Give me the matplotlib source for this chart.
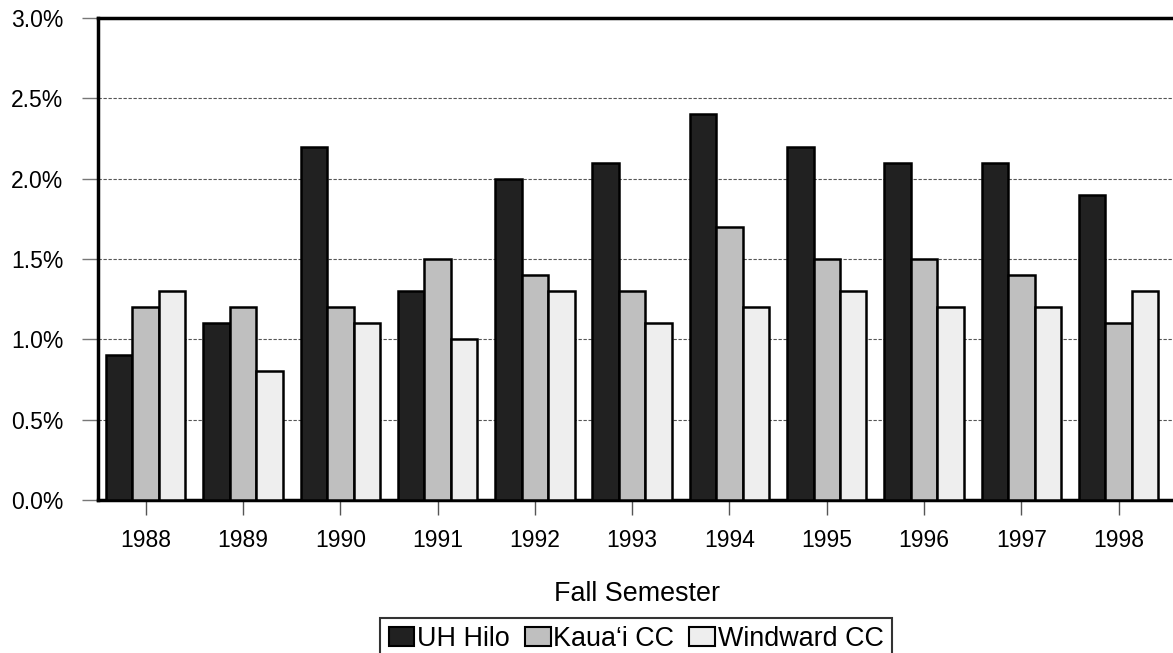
import matplotlib
matplotlib.use("Agg")
import matplotlib.pyplot as plt
import numpy as np

years = ["1988", "1989", "1990", "1991", "1992", "1993", "1994", "1995", "1996", "1997", "1998"]
uh_hilo = [0.9, 1.1, 2.2, 1.3, 2.0, 2.1, 2.4, 2.2, 2.1, 2.1, 1.9]
kauai = [1.2, 1.2, 1.2, 1.5, 1.4, 1.3, 1.7, 1.5, 1.5, 1.4, 1.1]
windward = [1.3, 0.8, 1.1, 1.0, 1.3, 1.1, 1.2, 1.3, 1.2, 1.2, 1.3]
series_names = ["UH Hilo", "Kaua\u2018i CC", "Windward CC"]
colors = ["#212121", "#bfbfbf", "#eeeeee"]

plt.rcParams['font.family'] = ['Liberation Sans', 'DejaVu Sans']
FS = 16.5
FS_BIG = 19.4

W, H = 1173, 653
fig = plt.figure(figsize=(W / 100, H / 100), dpi=100)
left = 98 / W
bottom = (H - 500) / H
height = (500 - 18) / H
unit = 97.3
xmin, xmax = -0.49, 10.62
width = (xmax - xmin) * unit / W
ax = fig.add_axes([left, bottom, width, height])

x = np.arange(len(years))
bw = 0.272
for i, (vals, c, name) in enumerate(zip([uh_hilo, kauai, windward], colors, series_names)):
    ax.bar(x + (i - 1) * bw, vals, bw, color=c, edgecolor="black", linewidth=1.8,
           label=name, zorder=3)

ax.set_xlim(xmin, xmax)
ax.set_ylim(0, 3.0)
ax.set_yticks(np.arange(0, 3.01, 0.5))
ax.set_yticklabels([f"{v:.1f}%" for v in np.arange(0, 3.01, 0.5)])
ax.set_xticks(x)
ax.set_xticklabels(years)
ax.yaxis.grid(True, linestyle=(0, (3, 1.5)), color="#555555", linewidth=0.8, zorder=0)
ax.set_axisbelow(True)

for s in ["left", "bottom", "top"]:
    ax.spines[s].set_linewidth(2.5)
    ax.spines[s].set_color("black")
ax.spines["right"].set_visible(False)

ax.tick_params(axis="y", length=11.5, width=1, color="#777777", labelsize=FS, pad=13.5)
ax.tick_params(axis="x", length=11, width=1, color="#555555", labelsize=FS, pad=10)

fig.text(637.5 / W, 1 - 594 / H, "Fall Semester", ha="center", va="center",
         fontsize=FS_BIG)

leg = fig.legend(loc="upper center", bbox_to_anchor=(636 / W, 1 - 618 / H), ncol=3,
                 fontsize=FS_BIG, frameon=True, fancybox=False, edgecolor="black",
                 handlelength=0.96, handleheight=0.7, handletextpad=0.1, columnspacing=0.55,
                 borderpad=0.3, borderaxespad=0)
leg.get_frame().set_linewidth(1.5)
for h in leg.legend_handles:
    h.set_linewidth(1.5)

fig.savefig("out.png", dpi=100)
